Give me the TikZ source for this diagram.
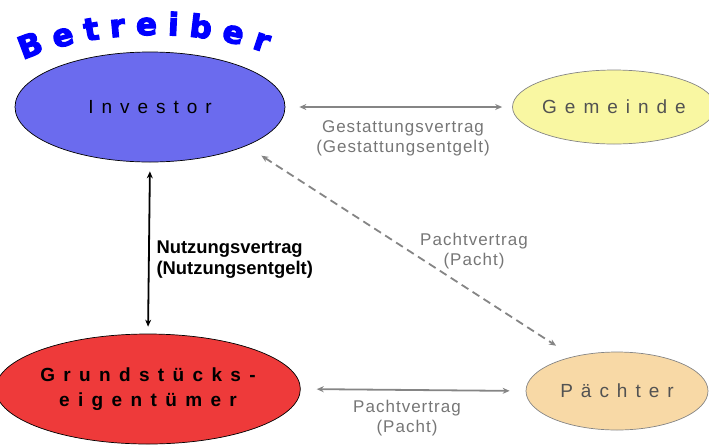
\documentclass[tikz,border=0pt]{standalone}
\usepackage{fontspec}
\setmainfont{Liberation Sans}
\newfontfamily\heavyfont{DejaVu Sans}[FakeBold=4, BoldFeatures={FakeBold=4}]
\usetikzlibrary{shapes.geometric,arrows.meta,decorations.text}
\definecolor{invblue}{HTML}{6B6BEE}
\definecolor{landred}{HTML}{EE3A3A}
\definecolor{townyellow}{HTML}{F9F7A2}
\definecolor{tenantpeach}{HTML}{F8D9A6}
\definecolor{linegray}{HTML}{858585}
\definecolor{labelgray}{HTML}{767676}
\tikzset{
  ctip/.tip={Stealth[length=7pt,width=6pt]},
  party/.style={ellipse, draw=black, line width=0.7pt, inner sep=0pt},
  partytext/.style={font=\fontsize{19}{23}\selectfont\addfontfeature{LetterSpace=42}},
  link/.style={draw=linegray, line width=1.8pt, ctip-ctip},
  contract/.style={text=labelgray, font=\fontsize{17}{20}\selectfont\addfontfeature{LetterSpace=6}, align=center},
}
\begin{document}
\begin{tikzpicture}[x=1pt,y=-1pt]
\useasboundingbox (0,0) rectangle (709,445);

% parties
\node[party, fill=invblue, minimum width=270pt, minimum height=110pt, partytext] (inv) at (150,107) {Investor};
\node[party, draw=linegray, fill=townyellow, minimum width=188pt, minimum height=74pt, partytext, text=black!68] (gem) at (614,107) {Gemeinde};
\node[party, fill=landred, minimum width=272pt, minimum height=110pt, font=\fontsize{19}{25}\selectfont\bfseries\addfontfeature{LetterSpace=44}, align=center] (grund) at (148,389) {Grundstücks-\\eigentümer};
\node[party, draw=linegray, fill=tenantpeach, minimum width=182pt, minimum height=78pt, partytext, text=black!68] (pach) at (617,391) {Pächter};

% operator label arched over the investor
\path[decorate, decoration={text along path, text align=fit to path,
  text={|\heavyfont\bfseries\fontsize{31}{31}\selectfont\color{blue}|Betreiber}}]
  (23,60) .. controls (95,29) and (195,27) .. (266,53);

% contracts
\draw[link, shorten <=14pt, shorten >=10pt] (inv.east) -- (gem.west);
\node[contract] (gestlbl) at (403,138) {Gestattungsvertrag\\(Gestattungsentgelt)};

\draw[link, dash pattern=on 8pt off 5pt, shorten <=18pt, shorten >=20pt] (inv.-22.3) -- (pach.142);
\node[contract] (pachtlbl1) at (474,251) {Pachtvertrag\\(Pacht)};

\draw[draw=black, line width=1.8pt, ctip-ctip, shorten <=9pt, shorten >=7pt] (inv.south) -- (grund.north);
\node[font=\fontsize{18.4}{21}\selectfont\bfseries, align=left, anchor=west] (nutzlbl) at (153,260) {Nutzungsvertrag\\(Nutzungsentgelt)};

\draw[link, shorten <=16pt, shorten >=16pt] (grund.east) -- (pach.west);
\node[contract] (pachtlbl2) at (407,418) {Pachtvertrag\\(Pacht)};
\end{tikzpicture}
\end{document}
